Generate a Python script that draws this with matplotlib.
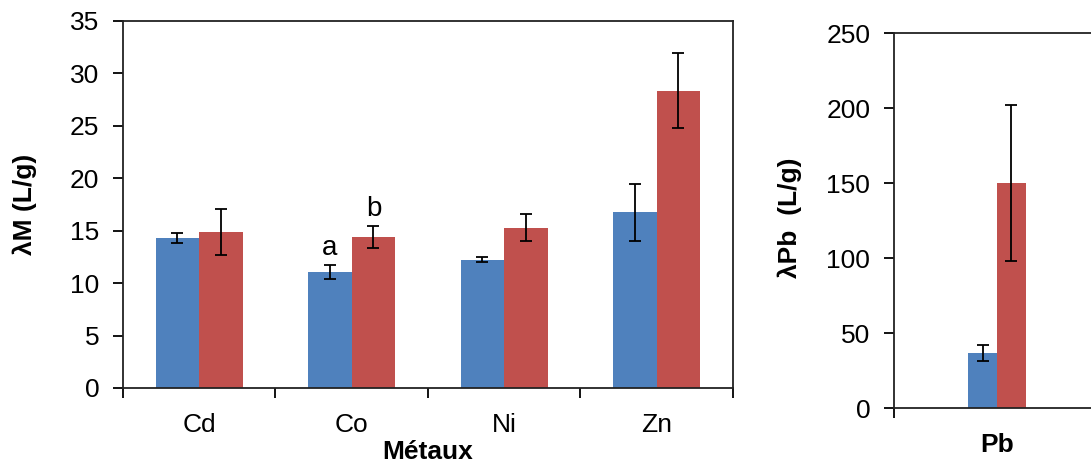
import numpy as np
import matplotlib.pyplot as plt

plt.rcParams['font.family'] = ['Liberation Sans', 'DejaVu Sans']

# metals, two conditions (blue / red)
metaux = ['Cd', 'Co', 'Ni', 'Zn']
lam_bleu = [14.3, 11.05, 12.25, 16.75]
err_bleu = [0.5, 0.7, 0.25, 2.75]
lam_rouge = [14.85, 14.4, 15.3, 28.35]
err_rouge = [2.2, 1.05, 1.3, 3.6]

pb_bleu = [36.5]
pb_err_bleu = [5.4]
pb_rouge = [150.0]
pb_err_rouge = [52.0]

bleu = '#4F81BD'
rouge = '#C0504D'
fs = 19

fig = plt.figure(figsize=(10.91, 4.67), dpi=100)

def style(ax, ncat):
    for s in ax.spines.values():
        s.set_linewidth(1.3)
        s.set_color('#222222')
    ax.set_xlim(-0.5, ncat - 0.5)
    ax.set_xticks(np.arange(ncat))
    ax.tick_params(axis='x', which='major', length=0, pad=18, labelsize=fs)
    ax.set_xticks(np.arange(ncat + 1) - 0.5, minor=True)
    ax.tick_params(axis='x', which='minor', length=7, width=1.3, direction='out')
    ax.tick_params(axis='y', length=7, width=1.3, direction='out', labelsize=fs, pad=10)

# ---- main panel: Cd, Co, Ni, Zn
ax1 = fig.add_axes([0.1127, 0.1692, 0.5591, 0.7859])
x = np.arange(len(metaux))
w = 0.285
ekw = dict(ecolor='black', elinewidth=1.3, capsize=4, capthick=1.3)
ax1.bar(x - w / 2, lam_bleu, w, color=bleu, yerr=err_bleu, error_kw=ekw)
ax1.bar(x + w / 2, lam_rouge, w, color=rouge, yerr=err_rouge, error_kw=ekw)
ax1.set_ylim(0, 35)
ax1.set_yticks(np.arange(0, 36, 5))
style(ax1, len(metaux))
ax1.set_xticklabels(metaux)
ax1.set_ylabel('λM (L/g)', fontsize=fs, fontweight='bold', va='center')
ax1.yaxis.set_label_coords(-0.161, 0.5)
ax1.set_xlabel('Métaux', fontsize=fs, fontweight='bold', va='center')
ax1.xaxis.set_label_coords(0.5, -0.174)

# letters above the Co bars
ax1.text(1 - w / 2, lam_bleu[1] + err_bleu[1] + 0.4, 'a', ha='center', va='bottom', fontsize=fs + 1)
ax1.text(1 + w / 2, lam_rouge[1] + err_rouge[1] + 0.4, 'b', ha='center', va='bottom', fontsize=fs + 1)

# ---- lead panel
ax2 = fig.add_axes([0.8194, 0.1263, 0.1888, 0.803])
w2 = 0.14
ax2.bar([-w2 / 2], pb_bleu, w2, color=bleu, yerr=pb_err_bleu, error_kw=ekw)
ax2.bar([w2 / 2], pb_rouge, w2, color=rouge, yerr=pb_err_rouge, error_kw=ekw)
ax2.set_ylim(0, 250)
ax2.set_yticks(np.arange(0, 251, 50))
style(ax2, 1)
ax2.set_xticklabels(['Pb'], fontweight='bold')
ax2.tick_params(axis='x', which='major', pad=18)
ax2.set_ylabel('λPb  (L/g)', fontsize=fs, fontweight='bold', va='center')
ax2.yaxis.set_label_coords(-0.505, 0.507)

fig.savefig('out.png', dpi=100)
